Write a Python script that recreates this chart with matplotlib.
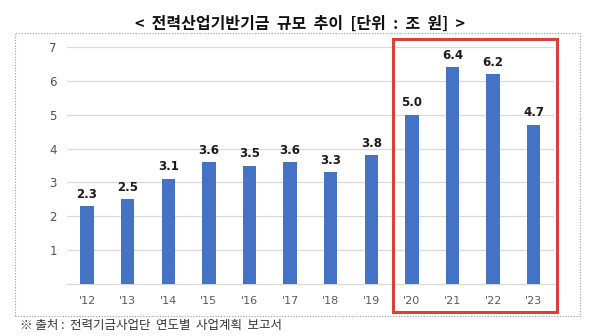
import matplotlib
matplotlib.use("Agg")
import matplotlib.pyplot as plt
from matplotlib.patches import Rectangle

plt.rcParams['font.family'] = ['Noto Sans CJK KR', 'DejaVu Sans']

years = ["'12", "'13", "'14", "'15", "'16", "'17", "'18", "'19", "'20", "'21", "'22", "'23"]
fund_size = [2.3, 2.5, 3.1, 3.6, 3.5, 3.6, 3.3, 3.8, 5.0, 6.4, 6.2, 4.7]
y_ticks = [1, 2, 3, 4, 5, 6, 7]

title = "<  전력산업기반기금  규모  추이  [단위  :  조  원]  >"
source = "※ 출처 :  전력기금사업단  연도별  사업계획  보고서"

W, H = 600, 336
fig = plt.figure(figsize=(W / 100, H / 100), dpi=100)
fig.patch.set_facecolor("white")

ax = fig.add_axes([66.7 / W, 1 - 284 / H, (554 - 66.7) / W, (284 - 47) / H])
x = list(range(len(years)))
ax.bar(x, fund_size, width=0.33, color="#4472C4", zorder=3)
for xi, v in zip(x, fund_size):
    ax.annotate(f"{v:.1f}", (xi, v), xytext=(0, 4), textcoords="offset points",
                ha="center", va="bottom", fontsize=8.5, fontweight="bold",
                color="#1a1a1a", family=['DejaVu Sans'])

ax.set_xlim(-0.5, len(years) - 0.5)
ax.set_ylim(0, 7)
ax.set_yticks(y_ticks)
ax.set_yticklabels([str(t) for t in y_ticks], fontsize=8.5, color="#505050",
                   family=['DejaVu Sans'])
ax.set_xticks(x)
ax.set_xticklabels(years, fontsize=8, color="#595959", family=['DejaVu Sans'])
ax.tick_params(axis="x", length=0, pad=9)
ax.tick_params(axis="y", length=0, pad=7)
ax.grid(axis="y", color="#D9D9D9", linewidth=0.9, zorder=0)
for s in ["top", "right", "left"]:
    ax.spines[s].set_visible(False)
ax.spines["bottom"].set_color("#D9D9D9")
ax.spines["bottom"].set_linewidth(0.9)

# outer dotted frame
fig.patches.append(Rectangle((15 / W, 1 - 316 / H), (580 - 15) / W, (316 - 33) / H,
                             transform=fig.transFigure, fill=False,
                             edgecolor="#9a9a9a", linewidth=0.8, linestyle=(0, (1, 1.5))))
# highlight box for recent years
fig.patches.append(Rectangle((393 / W, 1 - 312 / H), (557 - 393) / W, (312 - 39) / H,
                             transform=fig.transFigure, fill=False,
                             edgecolor="#D9413A", linewidth=2.2, zorder=5))

fig.text(0.5, 1 - 24 / H, title, ha="center", va="center", fontsize=11.5,
         fontweight="bold", color="#111111")
fig.text(20 / W, 1 - 326 / H, source, ha="left", va="center", fontsize=9,
         color="#333333")

fig.savefig("out.png", dpi=100, facecolor="white")
